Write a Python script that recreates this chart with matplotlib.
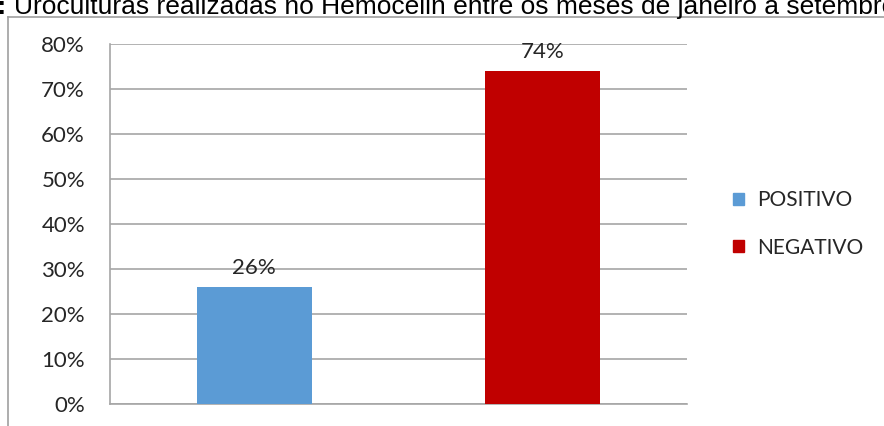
import matplotlib
matplotlib.use("Agg")
import matplotlib.pyplot as plt
from matplotlib.lines import Line2D
from matplotlib.ticker import FuncFormatter

# Data
categories = ["POSITIVO", "NEGATIVO"]
values = [26, 74]
bar_colors = ["#5B9BD5", "#C00000"]
y_ticks = [0, 10, 20, 30, 40, 50, 60, 70, 80]
title_bold = "Gráfico 1:"
title_text = "Uroculturas realizadas no Hemocelin entre os meses de janeiro a setembro"

W, H = 884, 426
fig = plt.figure(figsize=(W / 100, H / 100), dpi=100)

# Title, clipped at the top edge as in the source
fig.text(6 / W, 1 - 14 / H, title_bold, ha="right", va="baseline",
         fontsize=19, fontweight="bold", family="Liberation Sans", color="black")
fig.text(14 / W, 1 - 14 / H, title_text, ha="left", va="baseline",
         fontsize=19, family="Liberation Sans", color="black")

# Outer chart border (top and left visible)
border = "#A0A0A0"
fig.add_artist(Line2D([8 / W, 1], [1 - 17 / H, 1 - 17 / H], transform=fig.transFigure,
                      color=border, linewidth=1.2))
fig.add_artist(Line2D([8 / W, 8 / W], [1 - 17 / H, 0], transform=fig.transFigure,
                      color=border, linewidth=1.2))

# Plot area
ax = fig.add_axes((110 / W, 22 / H, 577 / W, 360 / H))
x = list(range(len(categories)))
bars = ax.bar(x, values, width=0.4, color=bar_colors, zorder=3)

ax.set_xlim(-0.5, 1.5)
ax.set_ylim(0, 80)
ax.set_yticks(y_ticks)
ax.yaxis.set_major_formatter(FuncFormatter(lambda v, p: f"{int(v)}%"))
ax.set_xticks([])
ax.grid(axis="y", color="#A6A6A6", linewidth=1.2, zorder=0)
ax.tick_params(axis="y", length=0, pad=18, labelsize=16, labelcolor="#262626")
for lbl in ax.get_yticklabels():
    lbl.set_family("Lato")

for s in ["top", "right"]:
    ax.spines[s].set_visible(False)
ax.spines["left"].set_color("#A6A6A6")
ax.spines["bottom"].set_color("#A6A6A6")
ax.spines["left"].set_linewidth(1.2)
ax.spines["bottom"].set_linewidth(1.2)

for b, v in zip(bars, values):
    ax.text(b.get_x() + b.get_width() / 2, v + 2.0, f"{v}%", ha="center", va="bottom",
            fontsize=16, family="Lato", color="#262626")

# Legend
handles = [plt.Rectangle((0, 0), 1, 1, color=c) for c in bar_colors]
fig.legend(handles, categories, loc="center left", bbox_to_anchor=(714 / W, 1 - 224 / H),
           frameon=False, prop={"family": "Lato", "size": 15},
           handlelength=0.55, handleheight=0.55, handletextpad=0.6, labelspacing=1.3,
           labelcolor="#262626")

fig.savefig("out.png", dpi=100)
